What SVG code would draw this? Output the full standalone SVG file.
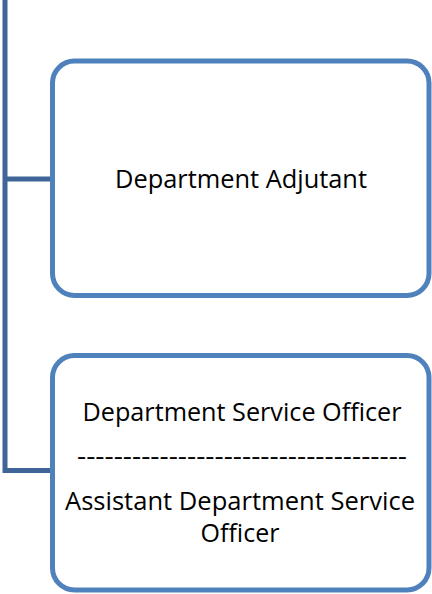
<svg xmlns="http://www.w3.org/2000/svg" width="432" height="594" viewBox="0 0 432 594">
<style>
.box{fill:#fff;stroke:#4F81BD;stroke-width:5}
.conn{fill:none;stroke:#3F6598;stroke-width:5}
.t{font-family:"Open Sans","Liberation Sans",sans-serif;font-size:25px;fill:#000;text-anchor:middle}
</style>
<rect width="432" height="594" fill="#fff"/>
<g id="connectors">
<path class="conn" d="M5 0 V470.5 H52"/>
<path class="conn" d="M5 179 H52"/>
</g>
<g id="node-adjutant">
<rect class="box" x="52.5" y="61" width="376.5" height="234.5" rx="22"/>
<text class="t" x="241" y="188" textLength="252" lengthAdjust="spacingAndGlyphs">Department Adjutant</text>
</g>
<g id="node-service-officer">
<rect class="box" x="52.5" y="355.5" width="376.5" height="234.5" rx="22"/>
<text class="t" x="242" y="421" textLength="319" lengthAdjust="spacingAndGlyphs">Department Service Officer</text>
<text class="t" x="242" y="465" textLength="330" lengthAdjust="spacingAndGlyphs">------------------------------------</text>
<text class="t" x="240" y="510" textLength="350" lengthAdjust="spacingAndGlyphs">Assistant Department Service</text>
<text class="t" x="240" y="542">Officer</text>
</g>
</svg>
